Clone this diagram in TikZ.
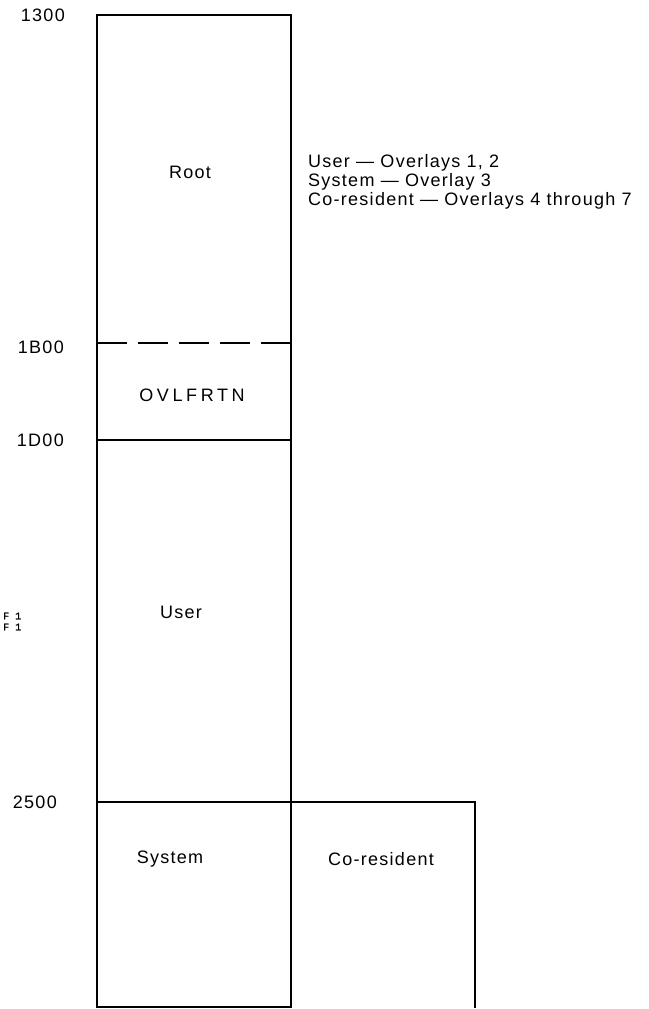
\documentclass[tikz,border=0pt]{standalone}
\usepackage{fontspec}
\setmainfont{Liberation Sans}[LetterSpace=7]
\newfontfamily\tinyfont{Liberation Mono}[FakeBold=2]
\usetikzlibrary{positioning}

\begin{document}
\begin{tikzpicture}[
  x=1pt, y=-1pt,
  font=\fontsize{18}{18.8}\selectfont,
  wall/.style={line width=1.6pt, line cap=rect},
  split/.style={line width=1.6pt, dash pattern=on 30pt off 11pt},
  addr/.style={anchor=east, inner sep=0pt},
  area/.style={inner sep=0pt},
  note/.style={anchor=west, align=left, inner sep=0pt},
  flag/.style={anchor=west, inner sep=0pt, font=\tinyfont\fontsize{10}{11}\selectfont},
]
  \useasboundingbox (0,0) rectangle (648,1009);

  % boundaries of the memory map
  \coordinate (topL) at (97,15);
  \coordinate (topR) at (291,15);
  \coordinate (botL) at (97,1007);
  \coordinate (botR) at (291,1007);
  \coordinate (sysL) at (97,802);
  \coordinate (coR)  at (475,802);
  \coordinate (coB)  at (475,1007);

  % column and co-resident box
  \draw[wall] (botL) -- (topL) -- (topR) -- (botR) -- cycle;
  \draw[split] (97,343) -- (291,343);
  \draw[wall] (97,440) -- (291,440);
  \draw[wall] (sysL) -- (coR) -- (coB);

  % addresses
  \node[addr] (a1300) at (65,15)  {1300};
  \node[addr] (a1B00) at (64,347) {1B00};
  \node[addr] (a1D00) at (64,440) {1D00};
  \node[addr] (a2500) at (57,802) {2500};
  \node[flag] (f1a) at (3,616) {F 1};
  \node[flag] (f1b) at (3,627) {F 1};

  % areas
  \node[area] (root)  at (190,172) {Root};
  \node[area] (ovl)   at (192,395) {\addfontfeature{LetterSpace=20}OVLFRTN};
  \node[area] (user)  at (181,612) {User};
  \node[area] (sys)   at (170,859) {System};
  \node[area] (cores) at (381,859) {Co-resident};

  % overlay assignment
  \node[note] (legend) at (308,182) {User --- Overlays 1, 2\\System --- Overlay 3\\Co-resident --- Overlays 4 through 7};
\end{tikzpicture}
\end{document}
